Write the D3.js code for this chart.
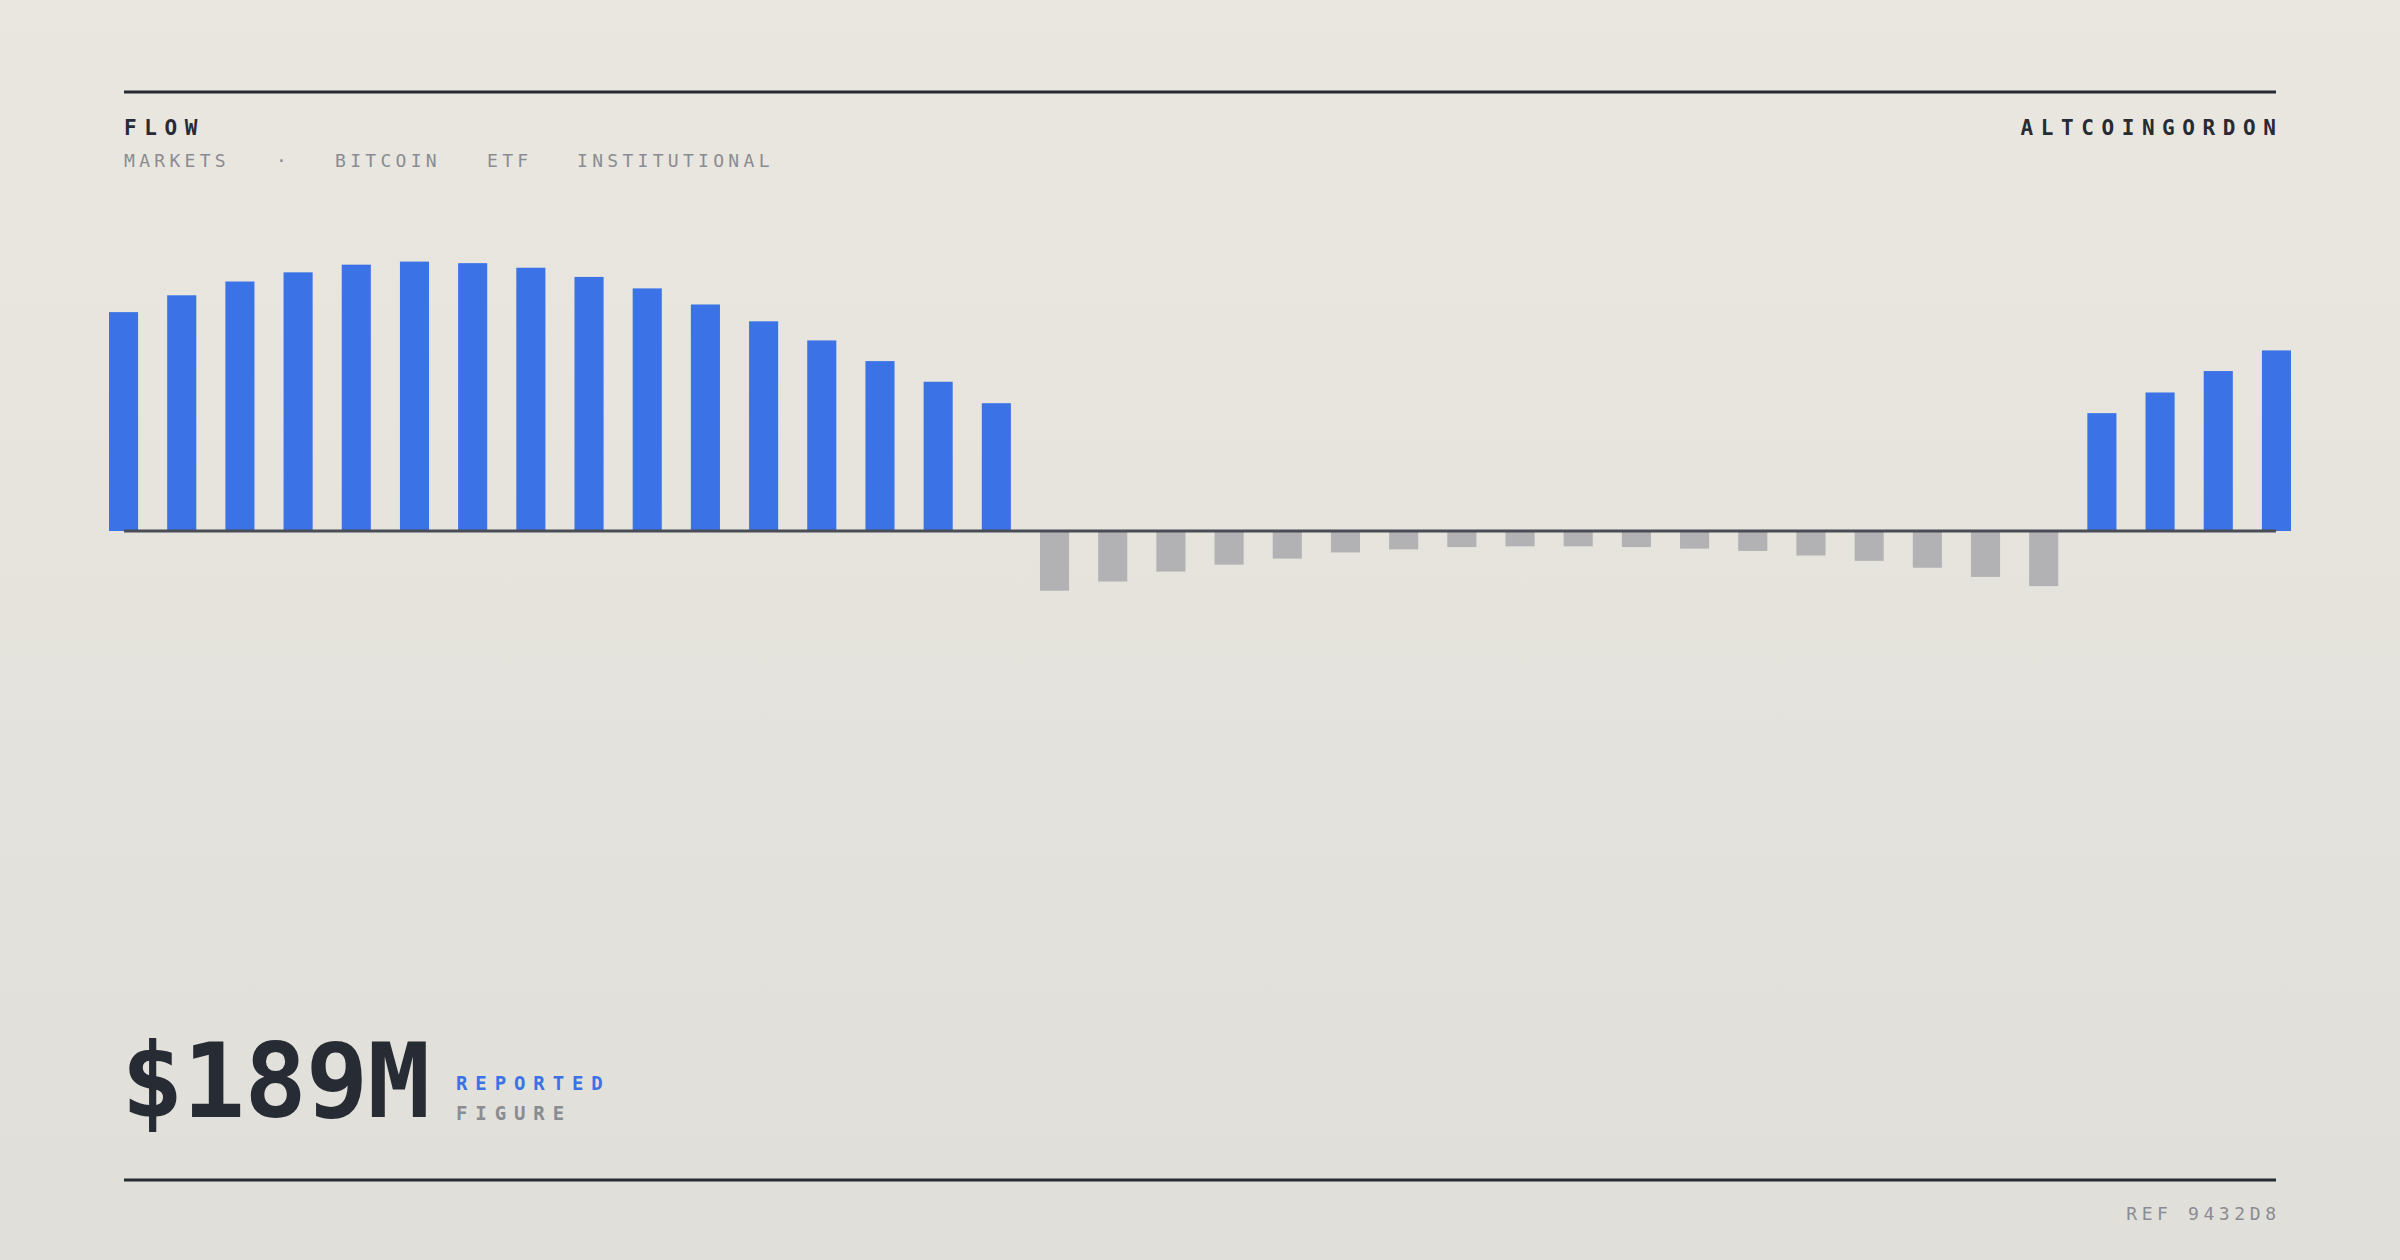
<!DOCTYPE html>
<html>
<head>
<meta charset="utf-8">
<script src="https://cdn.jsdelivr.net/npm/d3@7"></script>
<style>
  html, body { margin: 0; padding: 0; }
  body { width: 2400px; height: 1260px; overflow: hidden; }
  svg { display: block; }
</style>
</head>
<body>
<svg id="chart" width="2400" height="1260"></svg>
<script>
// ---- data ----
const days = d3.range(1, 39).map(d => "D" + d);
const flows = [
  143, 154, 163, 169, 174, 176, 175, 172, 166, 158.5, 148, 137, 124.5, 111, 97.5, 83.5,
  -39, -33, -26.5, -22, -18, -14, -12, -10.5, -10, -10, -10.5, -11.5, -13, -16, -19.5, -24, -30, -36,
  77, 90.5, 104.5, 118
];
const headerTitle = "FLOW";
const brand = "ALTCOINGORDON";
const tags = ["MARKETS", "·", "BITCOIN", "ETF", "INSTITUTIONAL"];
const bigFigure = "$189M";
const figureLabels = ["REPORTED", "FIGURE"];
const refLabel = "REF 9432D8";

// ---- layout ----
const W = 2400, H = 1260;
const left = 124, right = 2276;
const zeroY = 531;
const pxPerUnit = 1.5306;

const svg = d3.select("#chart");
const defs = svg.append("defs");
const grad = defs.append("linearGradient").attr("id", "bg").attr("x1", 0).attr("y1", 0).attr("x2", 0).attr("y2", 1);
grad.append("stop").attr("offset", "0%").attr("stop-color", "#eae7e0");
grad.append("stop").attr("offset", "100%").attr("stop-color", "#e0dfd9");
svg.append("rect").attr("width", W).attr("height", H).attr("fill", "url(#bg)");

const dark = "#272b34";
const gray = "#8a8c92";
const blue = "#3b73e6";
const mono = "'DejaVu Sans Mono', 'Liberation Mono', monospace";

// rules
svg.append("line").attr("x1", left).attr("x2", right).attr("y1", 92).attr("y2", 92)
  .attr("stroke", dark).attr("stroke-width", 3);
svg.append("line").attr("x1", left).attr("x2", right).attr("y1", 1180).attr("y2", 1180)
  .attr("stroke", dark).attr("stroke-width", 3);

// header
svg.append("text").attr("x", left).attr("y", 135).text(headerTitle)
  .attr("font-family", mono).attr("font-weight", 700).attr("font-size", 21)
  .attr("letter-spacing", 7.6).attr("fill", dark);
svg.append("text").attr("x", right + 7.6).attr("y", 135).attr("text-anchor", "end").text(brand)
  .attr("font-family", mono).attr("font-weight", 700).attr("font-size", 21)
  .attr("letter-spacing", 7.6).attr("fill", dark);

const tagX = [124, 276, 335, 487, 577];
svg.selectAll("text.tag").data(tags).join("text").attr("class", "tag")
  .attr("x", (d, i) => tagX[i]).attr("y", 167).text(d => d)
  .attr("font-family", mono).attr("font-size", 18).attr("letter-spacing", 4.3)
  .attr("fill", gray);

// scales
const x = d3.scaleBand().domain(days).range([109, 2291]).paddingInner(0.5).paddingOuter(0);
const y = d3.scaleLinear().domain([0, 200]).range([zeroY, zeroY - 200 * pxPerUnit]);

svg.append("g").selectAll("rect").data(flows).join("rect")
  .attr("x", (d, i) => x(days[i]))
  .attr("width", x.bandwidth())
  .attr("y", d => d >= 0 ? y(d) : y(0))
  .attr("height", d => Math.abs(y(d) - y(0)))
  .attr("fill", d => d >= 0 ? blue : "#b2b2b4");

// zero line
svg.append("line").attr("x1", left).attr("x2", right).attr("y1", y(0)).attr("y2", y(0))
  .attr("stroke", "#4a4d55").attr("stroke-width", 3);

// big figure
svg.append("text").attr("x", 121).attr("y", 1117).text(bigFigure)
  .attr("font-family", mono).attr("font-weight", 700).attr("font-size", 104)
  .attr("letter-spacing", -1).attr("fill", dark);
svg.append("text").attr("x", 456).attr("y", 1090).text(figureLabels[0])
  .attr("font-family", mono).attr("font-weight", 700).attr("font-size", 19)
  .attr("letter-spacing", 7.9).attr("fill", blue);
svg.append("text").attr("x", 456).attr("y", 1120).text(figureLabels[1])
  .attr("font-family", mono).attr("font-weight", 700).attr("font-size", 19)
  .attr("letter-spacing", 7.9).attr("fill", gray);

// ref
svg.append("text").attr("x", right + 4.6).attr("y", 1220).attr("text-anchor", "end").text(refLabel)
  .attr("font-family", mono).attr("font-size", 18).attr("letter-spacing", 4.6).attr("fill", gray);
</script>
</body>
</html>
